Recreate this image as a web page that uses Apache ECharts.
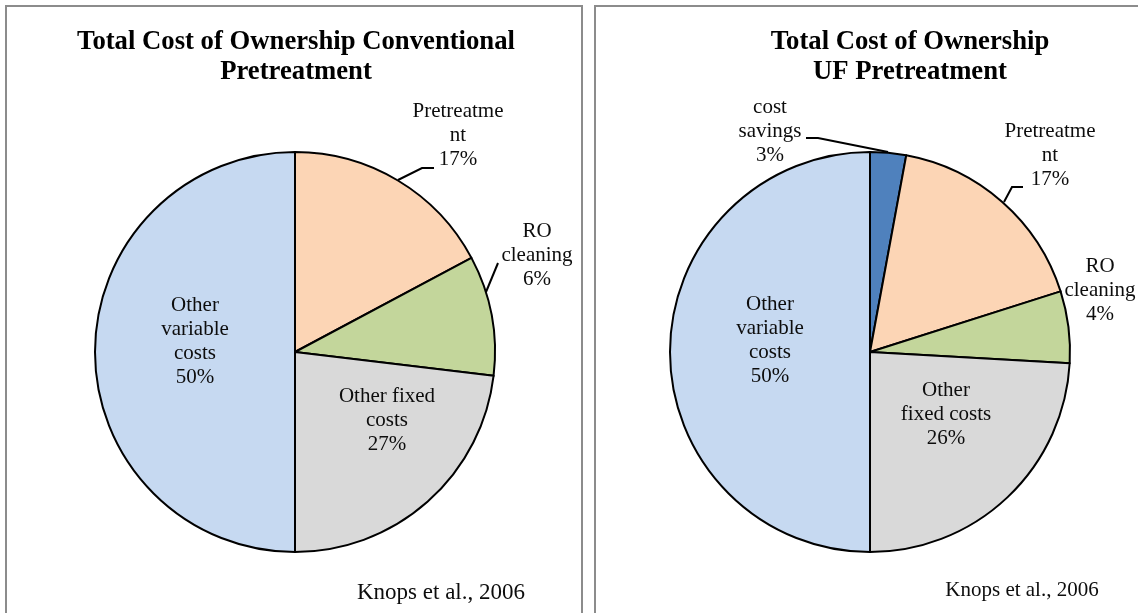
<!DOCTYPE html>
<html>
<head>
<meta charset="utf-8">
<script src="https://cdn.jsdelivr.net/npm/echarts@6/dist/echarts.min.js"></script>
<style>
  html, body { margin: 0; padding: 0; background: #ffffff; }
  #chart { width: 1138px; height: 613px; }
</style>
</head>
<body>
<div id="chart"></div>
<script>
// ---- Data ----
const leftTitle = 'Total Cost of Ownership Conventional\nPretreatment';
const rightTitle = 'Total Cost of Ownership\nUF Pretreatment';
const sourceText = 'Knops et al., 2006';

// Conventional pretreatment pie
const leftCategories = ['Pretreatment', 'RO cleaning', 'Other fixed costs', 'Other variable costs'];
const leftLabelText = ['Pretreatme\nnt', 'RO\ncleaning', 'Other fixed\ncosts', 'Other\nvariable\ncosts'];
const leftValues = [17.2, 9.7, 23.1, 50.0];        // slice sizes as drawn
const leftLabelPercents = [17, 6, 27, 50];          // percentages printed on the labels

// UF pretreatment pie
const rightCategories = ['cost savings', 'Pretreatment', 'RO cleaning', 'Other fixed costs', 'Other variable costs'];
const rightLabelText = ['cost\nsavings', 'Pretreatme\nnt', 'RO\ncleaning', 'Other\nfixed costs', 'Other\nvariable\ncosts'];
const rightValues = [2.9, 17.2, 5.8, 24.1, 50.0];
const rightLabelPercents = [3, 17, 4, 26, 50];

// ---- Styles ----
const colorMap = {
  'cost savings': '#4F81BD',
  'Pretreatment': '#FCD5B5',
  'RO cleaning': '#C3D69B',
  'Other fixed costs': '#D9D9D9',
  'Other variable costs': '#C6D9F1'
};
const FONT = '"Liberation Serif", "Times New Roman", serif';

// label placement (layout only)
const leftLayout = [
  { x: 458, y: 135, line: [[398, 180], [422, 168], [434, 168]] },
  { x: 537, y: 255, line: [[486, 292], [498, 263]] },
  { x: 387, y: 420 },
  { x: 195, y: 341 }
];
const rightLayout = [
  { x: 770, y: 131, line: [[888, 152], [818, 138], [806, 138]] },
  { x: 1050, y: 155, line: [[1004, 202], [1012, 187], [1023, 187]] },
  { x: 1100, y: 290 },
  { x: 946, y: 414 },
  { x: 770, y: 340 }
];

function buildData(cats, vals, texts, pcts) {
  return cats.map((c, i) => ({
    name: c,
    value: vals[i],
    labelText: texts[i] + '\n' + pcts[i] + '%',
    itemStyle: { color: colorMap[c] }
  }));
}

function makePie(center, cats, vals, texts, pcts, layout) {
  const data = buildData(cats, vals, texts, pcts);
  return {
    type: 'pie',
    center: center,
    radius: 200,
    startAngle: 90,
    clockwise: true,
    animation: false,
    silent: true,
    avoidLabelOverlap: false,
    itemStyle: { borderColor: '#000', borderWidth: 2 },
    label: {
      show: true,
      position: 'outside',
      formatter: p => data[p.dataIndex].labelText,
      fontFamily: FONT,
      fontSize: 21,
      lineHeight: 24,
      color: '#0d0d0d',
      align: 'center'
    },
    labelLine: { show: true, lineStyle: { color: '#000', width: 2 }, length: 10, length2: 10 },
    labelLayout: function (params) {
      const l = layout[params.dataIndex];
      const out = { x: l.x, y: l.y, align: 'center', verticalAlign: 'middle' };
      if (l.line) out.labelLinePoints = l.line;
      return out;
    },
    data: data.map((d, i) => Object.assign({}, d, {
      labelLine: { show: !!layout[i].line }
    }))
  };
}

const chart = echarts.init(document.getElementById('chart'), null, { renderer: 'canvas' });
chart.setOption({
  backgroundColor: '#ffffff',
  animation: false,
  title: [
    {
      text: leftTitle, left: 296, top: 27, textAlign: 'center', padding: 0,
      textStyle: { fontFamily: FONT, fontSize: 26.7, fontWeight: 'bold', lineHeight: 30, color: '#000' }
    },
    {
      text: rightTitle, left: 910, top: 27, textAlign: 'center', padding: 0,
      textStyle: { fontFamily: FONT, fontSize: 26.7, fontWeight: 'bold', lineHeight: 30, color: '#000' }
    }
  ],
  graphic: [
    { type: 'rect', shape: { x: 6, y: 6, width: 576, height: 620 }, style: { fill: 'none', stroke: '#8c8c8c', lineWidth: 2 }, z: -1 },
    { type: 'rect', shape: { x: 595, y: 6, width: 560, height: 620 }, style: { fill: 'none', stroke: '#8c8c8c', lineWidth: 2 }, z: -1 },
    { type: 'text', x: 441, y: 593, style: { text: sourceText, fontFamily: FONT, fontSize: 23, fill: '#0d0d0d', textAlign: 'center', textVerticalAlign: 'middle' } },
    { type: 'text', x: 1022, y: 590, style: { text: sourceText, fontFamily: FONT, fontSize: 21, fill: '#0d0d0d', textAlign: 'center', textVerticalAlign: 'middle' } }
  ],
  series: [
    makePie([295, 352], leftCategories, leftValues, leftLabelText, leftLabelPercents, leftLayout),
    makePie([870, 352], rightCategories, rightValues, rightLabelText, rightLabelPercents, rightLayout)
  ]
});
</script>
</body>
</html>
